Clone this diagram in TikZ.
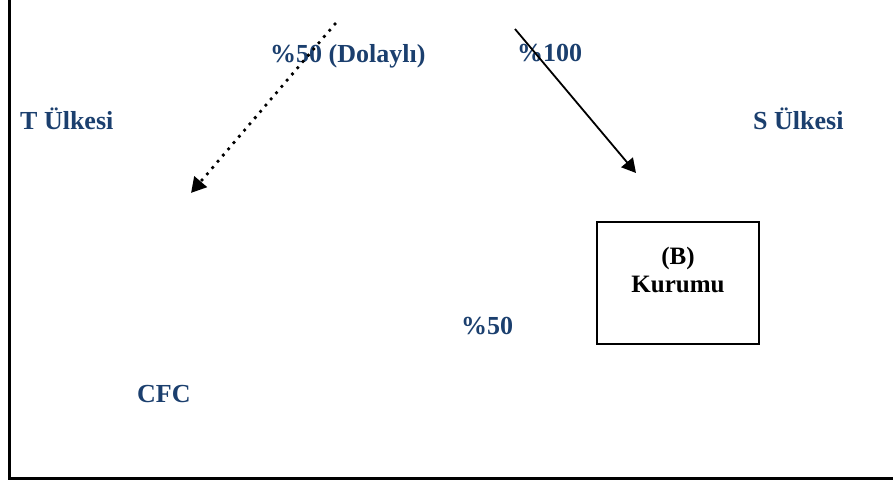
\documentclass[tikz,border=0pt]{standalone}
\usepackage{fontspec}
\setmainfont{Liberation Serif}
\usetikzlibrary{arrows.meta}
\definecolor{lbl}{HTML}{1B3F6E}
\tikzset{
  lbltext/.style={text=lbl, font=\fontsize{26}{30}\selectfont\bfseries, inner sep=0pt, anchor=base west},
  boxframe/.style={draw=black, line width=1.8pt, minimum width=162pt, minimum height=122pt, inner sep=0pt},
  boxtext/.style={font=\fontsize{25}{28}\selectfont\bfseries, align=center, inner sep=0pt, anchor=north},
  dotarrow/.style={line width=3.8pt, line cap=round, dash pattern=on 0pt off 8.2pt, -{Triangle[length=15pt,width=16pt]}},
  solidarrow/.style={line width=1.8pt, -{Triangle[length=14pt,width=15pt]}},
  frameline/.style={line width=3.5pt}
}
\begin{document}
\begin{tikzpicture}[x=1pt,y=-1pt]
\useasboundingbox (0,0) rectangle (893,481);
% frame
\coordinate (ftop) at (9.5,0);
\coordinate (fcorner) at (9.5,478.5);
\coordinate (fright) at (893,478.5);
\draw[frameline] (ftop) -- (fcorner) -- (fright);
% labels
\node[lbltext] (tulke) at (20,130) {T Ülkesi};
\node[lbltext] (sulke) at (753,130) {S Ülkesi};
\node[lbltext] (dolayli) at (270,63) {\%50 (Dolaylı)};
\node[lbltext] (yuz) at (517,62) {\%100};
\node[lbltext] (elli) at (461,334) {\%50};
\node[lbltext] (cfc) at (137,402) {CFC};
% box
\node[boxframe] (kurum) at (678,283) {};
\node[boxtext] (kurumtext) at (678,247) {(B)\\Kurumu};
% arrows
\coordinate (d1) at (335,24);
\coordinate (d2) at (191,193);
\draw[dotarrow] (d1) -- (d2);
\coordinate (s1) at (515,29);
\coordinate (s2) at (636,173);
\draw[solidarrow] (s1) -- (s2);
\end{tikzpicture}
\end{document}
